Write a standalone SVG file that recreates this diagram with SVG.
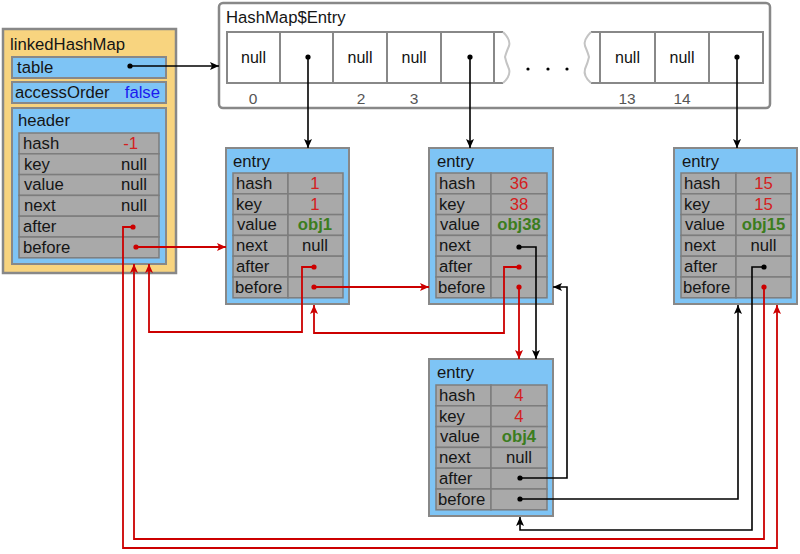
<svg xmlns="http://www.w3.org/2000/svg" width="800" height="554" viewBox="0 0 800 554">
<style>
text{font-family:"Liberation Sans",Arial,sans-serif;font-size:16.7px;fill:#151515}
.box{fill:#7EC4F5;stroke:#888;stroke-width:2}
.org{fill:#F8D47F;stroke:#888;stroke-width:2.5}
.cell{fill:#A9A9A9;stroke:#7D7D7D;stroke-width:1.5}
.acell{fill:#fff;stroke:#888;stroke-width:2}
.val{text-anchor:middle}
.red{fill:#D42020}
.grn{fill:#3C7D1E;font-weight:bold}
.blu{fill:#1A1AF0}
.idx{fill:#555;font-size:15.5px;text-anchor:middle}
.an{font-size:16px;text-anchor:middle;fill:#111}
.lb{fill:none;stroke:#000;stroke-width:1.6}
.lr{fill:none;stroke:#CC0000;stroke-width:1.8}
.zz{fill:none;stroke:#C4C4C4;stroke-width:2}
.zl{fill:none;stroke:#888;stroke-width:2}
</style>
<defs>
<marker id="ab" markerUnits="userSpaceOnUse" markerWidth="10" markerHeight="10" viewBox="0 0 10 10" refX="9" refY="5" orient="auto"><path d="M0,1 L9,5 L0,9 L2,5 Z" fill="#000"/></marker>
<marker id="ar" markerUnits="userSpaceOnUse" markerWidth="10" markerHeight="10" viewBox="0 0 10 10" refX="9" refY="5" orient="auto"><path d="M0,1 L9,5 L0,9 L2,5 Z" fill="#CC0000"/></marker>
<marker id="db" markerUnits="userSpaceOnUse" markerWidth="6" markerHeight="6" viewBox="0 0 6 6" refX="3" refY="3"><circle cx="3" cy="3" r="2.6" fill="#000"/></marker>
<marker id="dr" markerUnits="userSpaceOnUse" markerWidth="6" markerHeight="6" viewBox="0 0 6 6" refX="3" refY="3"><circle cx="3" cy="3" r="2.6" fill="#CC0000"/></marker>
</defs>

<g id="linkedHashMap">
<rect class="org" x="3" y="29" width="173" height="244"/>
<text x="10" y="50">linkedHashMap</text>
<rect class="box" x="12" y="57" width="154" height="21"/>
<text x="17" y="73">table</text>
<rect class="box" x="12" y="82" width="154" height="21"/>
<text x="15" y="98">accessOrder</text>
<text x="160" y="98" text-anchor="end" class="blu">false</text>
<rect class="box" x="12" y="108" width="154" height="156"/>
<text x="18" y="126">header</text>
<rect class="cell" x="19" y="133" width="140" height="20.8"/>
<rect class="cell" x="19" y="153.8" width="140" height="20.8"/>
<rect class="cell" x="19" y="174.6" width="140" height="20.8"/>
<rect class="cell" x="19" y="195.4" width="140" height="20.8"/>
<rect class="cell" x="19" y="216.2" width="140" height="20.8"/>
<rect class="cell" x="19" y="237" width="140" height="20.8"/>
<text x="23" y="149">hash</text>
<text x="24" y="170">key</text>
<text x="24" y="190">value</text>
<text x="24" y="211">next</text>
<text x="23" y="232">after</text>
<text x="23" y="253">before</text>
<text x="138" y="149" text-anchor="end" class="red">-1</text>
<text x="147" y="170" text-anchor="end">null</text>
<text x="147" y="190" text-anchor="end">null</text>
<text x="147" y="211" text-anchor="end">null</text>
</g>

<g id="hashmapEntry">
<rect x="219" y="3" width="551" height="105" rx="4" fill="#fff" stroke="#888" stroke-width="2.5"/>
<text x="226" y="23">HashMap$Entry</text>
<rect class="acell" x="227" y="32" width="53" height="51"/>
<rect class="acell" x="280" y="32" width="53" height="51"/>
<rect class="acell" x="333" y="32" width="54" height="51"/>
<rect class="acell" x="387" y="32" width="54" height="51"/>
<rect class="acell" x="441" y="32" width="53" height="51"/>
<path class="zl" d="M494,32 H503 M494,83 H503"/>
<path class="zz" d="M503,32 Q511,40 509,46 Q506,53 505,57 Q506,62 509,69 Q511,76 503,83"/>
<path class="zl" d="M600,32 H591 M600,83 H591"/>
<path class="zz" d="M591,32 Q583,40 585,46 Q588,53 589,57 Q588,62 585,69 Q583,76 591,83"/>
<rect class="acell" x="600" y="32" width="55" height="51"/>
<rect class="acell" x="655" y="32" width="54" height="51"/>
<rect class="acell" x="709" y="32" width="54" height="51"/>
<text class="an" x="253.5" y="63">null</text>
<text class="an" x="360" y="63">null</text>
<text class="an" x="414" y="63">null</text>
<text class="an" x="627.5" y="63">null</text>
<text class="an" x="682" y="63">null</text>
<circle cx="528" cy="69" r="1.6" fill="#000"/>
<circle cx="548" cy="69" r="1.6" fill="#000"/>
<circle cx="567" cy="69" r="1.6" fill="#000"/>
<text class="idx" x="253" y="104">0</text>
<text class="idx" x="361" y="104">2</text>
<text class="idx" x="414" y="104">3</text>
<text class="idx" x="627" y="104">13</text>
<text class="idx" x="682" y="104">14</text>
</g>

<g id="entry1" transform="translate(226,148)">
<rect class="box" x="0" y="0" width="123" height="156"/>
<text x="7" y="19">entry</text>
<rect class="cell" x="7" y="25" width="55" height="20.8"/><rect class="cell" x="62" y="25" width="55" height="20.8"/>
<rect class="cell" x="7" y="45.8" width="55" height="20.8"/><rect class="cell" x="62" y="45.8" width="55" height="20.8"/>
<rect class="cell" x="7" y="66.6" width="55" height="20.8"/><rect class="cell" x="62" y="66.6" width="55" height="20.8"/>
<rect class="cell" x="7" y="87.4" width="55" height="20.8"/><rect class="cell" x="62" y="87.4" width="55" height="20.8"/>
<rect class="cell" x="7" y="108.2" width="55" height="20.8"/><rect class="cell" x="62" y="108.2" width="55" height="20.8"/>
<rect class="cell" x="7" y="129" width="55" height="20.8"/><rect class="cell" x="62" y="129" width="55" height="20.8"/>
<text x="10" y="41">hash</text><text x="10" y="62">key</text><text x="11" y="82">value</text><text x="10" y="103">next</text><text x="10" y="124">after</text><text x="9" y="145">before</text>
<text class="val red" x="89" y="41">1</text><text class="val red" x="89" y="62">1</text><text class="val grn" x="89" y="82">obj1</text><text class="val" x="89" y="103">null</text>
</g>

<g id="entry2" transform="translate(429,148)">
<rect class="box" x="0" y="0" width="124" height="156"/>
<text x="8" y="19">entry</text>
<rect class="cell" x="7" y="25" width="55" height="20.8"/><rect class="cell" x="62" y="25" width="56" height="20.8"/>
<rect class="cell" x="7" y="45.8" width="55" height="20.8"/><rect class="cell" x="62" y="45.8" width="56" height="20.8"/>
<rect class="cell" x="7" y="66.6" width="55" height="20.8"/><rect class="cell" x="62" y="66.6" width="56" height="20.8"/>
<rect class="cell" x="7" y="87.4" width="55" height="20.8"/><rect class="cell" x="62" y="87.4" width="56" height="20.8"/>
<rect class="cell" x="7" y="108.2" width="55" height="20.8"/><rect class="cell" x="62" y="108.2" width="56" height="20.8"/>
<rect class="cell" x="7" y="129" width="55" height="20.8"/><rect class="cell" x="62" y="129" width="56" height="20.8"/>
<text x="10" y="41">hash</text><text x="10" y="62">key</text><text x="11" y="82">value</text><text x="10" y="103">next</text><text x="10" y="124">after</text><text x="9" y="145">before</text>
<text class="val red" x="90" y="41">36</text><text class="val red" x="90" y="62">38</text><text class="val grn" x="90" y="82">obj38</text>
</g>

<g id="entry3" transform="translate(674,148)">
<rect class="box" x="0" y="0" width="123" height="156"/>
<text x="8" y="19">entry</text>
<rect class="cell" x="7" y="25" width="55" height="20.8"/><rect class="cell" x="62" y="25" width="55" height="20.8"/>
<rect class="cell" x="7" y="45.8" width="55" height="20.8"/><rect class="cell" x="62" y="45.8" width="55" height="20.8"/>
<rect class="cell" x="7" y="66.6" width="55" height="20.8"/><rect class="cell" x="62" y="66.6" width="55" height="20.8"/>
<rect class="cell" x="7" y="87.4" width="55" height="20.8"/><rect class="cell" x="62" y="87.4" width="55" height="20.8"/>
<rect class="cell" x="7" y="108.2" width="55" height="20.8"/><rect class="cell" x="62" y="108.2" width="55" height="20.8"/>
<rect class="cell" x="7" y="129" width="55" height="20.8"/><rect class="cell" x="62" y="129" width="55" height="20.8"/>
<text x="10" y="41">hash</text><text x="10" y="62">key</text><text x="11" y="82">value</text><text x="10" y="103">next</text><text x="10" y="124">after</text><text x="9" y="145">before</text>
<text class="val red" x="89.5" y="41">15</text><text class="val red" x="89.5" y="62">15</text><text class="val grn" x="89.5" y="82">obj15</text><text class="val" x="89.5" y="103">null</text>
</g>

<g id="entry4" transform="translate(429,359)">
<rect class="box" x="0" y="0" width="124" height="157"/>
<text x="8" y="19">entry</text>
<rect class="cell" x="7" y="26" width="55" height="20.8"/><rect class="cell" x="62" y="26" width="56" height="20.8"/>
<rect class="cell" x="7" y="46.8" width="55" height="20.8"/><rect class="cell" x="62" y="46.8" width="56" height="20.8"/>
<rect class="cell" x="7" y="67.6" width="55" height="20.8"/><rect class="cell" x="62" y="67.6" width="56" height="20.8"/>
<rect class="cell" x="7" y="88.4" width="55" height="20.8"/><rect class="cell" x="62" y="88.4" width="56" height="20.8"/>
<rect class="cell" x="7" y="109.2" width="55" height="20.8"/><rect class="cell" x="62" y="109.2" width="56" height="20.8"/>
<rect class="cell" x="7" y="130" width="55" height="20.8"/><rect class="cell" x="62" y="130" width="56" height="20.8"/>
<text x="10" y="42">hash</text><text x="10" y="63">key</text><text x="11" y="83">value</text><text x="10" y="104">next</text><text x="10" y="125">after</text><text x="9" y="146">before</text>
<text class="val red" x="90" y="42">4</text><text class="val red" x="90" y="63">4</text><text class="val grn" x="90" y="83">obj4</text><text class="val" x="90" y="104">null</text>
</g>

<g id="connectors">
<path class="lb" d="M130,66 H219" marker-start="url(#db)" marker-end="url(#ab)"/>
<path class="lb" d="M308,57 V148" marker-start="url(#db)" marker-end="url(#ab)"/>
<path class="lb" d="M470,57 V148" marker-start="url(#db)" marker-end="url(#ab)"/>
<path class="lb" d="M737,57 V148" marker-start="url(#db)" marker-end="url(#ab)"/>
<path class="lb" d="M519,247 H536 V359" marker-start="url(#db)" marker-end="url(#ab)"/>
<path class="lb" d="M520,478 H567 V287 H553" marker-start="url(#db)" marker-end="url(#ab)"/>
<path class="lb" d="M520,499 H738 V305" marker-start="url(#db)" marker-end="url(#ab)"/>
<path class="lb" d="M764,267 H752 V530 H520 V517" marker-start="url(#db)" marker-end="url(#ab)"/>
<path class="lr" d="M136,247 H226" marker-start="url(#dr)" marker-end="url(#ar)"/>
<path class="lr" d="M133,227 H123 V548 H777 V305" marker-start="url(#dr)" marker-end="url(#ar)"/>
<path class="lr" d="M764,287 V539 H134 V264" marker-start="url(#dr)" marker-end="url(#ar)"/>
<path class="lr" d="M314,267 H302 V332 H149 V264" marker-start="url(#dr)" marker-end="url(#ar)"/>
<path class="lr" d="M519,267 H504 V333 H314 V305" marker-start="url(#dr)" marker-end="url(#ar)"/>
<path class="lr" d="M314,287 H429" marker-start="url(#dr)" marker-end="url(#ar)"/>
<path class="lr" d="M519,287 V359" marker-start="url(#dr)" marker-end="url(#ar)"/>
</g>
</svg>
